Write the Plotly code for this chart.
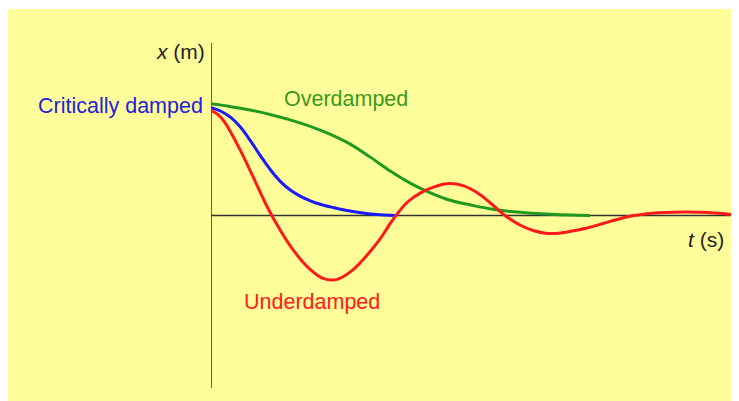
import plotly.graph_objects as go

# Values (t and x in arbitrary units)
over_t = [0.0, 0.379, 0.758, 1.136, 1.515, 1.894, 2.273, 2.652, 3.030, 3.409,
          3.788, 4.167, 4.545, 4.924, 5.303, 5.682, 6.061, 6.439, 6.818, 7.178]
over_x = [1.004, 0.978, 0.946, 0.906, 0.857, 0.798, 0.726, 0.637, 0.520, 0.395,
          0.287, 0.202, 0.135, 0.094, 0.058, 0.036, 0.021, 0.011, 0.004, 0.0]

crit_t = [0.0, 0.189, 0.379, 0.568, 0.758, 0.947, 1.136, 1.326, 1.515, 1.705,
          1.894, 2.083, 2.311, 2.576, 2.841, 3.144, 3.485]
crit_x = [0.969, 0.937, 0.879, 0.789, 0.664, 0.529, 0.404, 0.300, 0.224, 0.170,
          0.130, 0.099, 0.072, 0.045, 0.024, 0.009, 0.0]

under_t = [0.0, 0.133, 0.265, 0.530, 0.795, 1.061, 1.326, 1.591, 1.856, 2.121,
           2.386, 2.652, 2.917, 3.182, 3.447, 3.712, 3.977, 4.242, 4.508, 4.773,
           5.038, 5.303, 5.568, 5.833, 6.098, 6.364, 6.629, 6.894, 7.159, 7.424,
           7.689, 7.955, 8.220, 8.485, 8.750, 9.015, 9.280, 9.545, 9.811, 10.0]
under_x = [0.942, 0.906, 0.834, 0.610, 0.350, 0.081, -0.143, -0.332, -0.475, -0.565,
           -0.574, -0.502, -0.377, -0.224, -0.036, 0.117, 0.206, 0.260, 0.287, 0.269,
           0.206, 0.108, 0.0, -0.081, -0.135, -0.161, -0.157, -0.135, -0.108, -0.072,
           -0.036, -0.004, 0.013, 0.024, 0.030, 0.031, 0.029, 0.022, 0.011, 0.0]

GREEN = "#1f9a1f"
BLUE = "#1a1aff"
RED = "#ff1a1a"
YELLOW = "#FFFD99"
FONT = "Arial, Liberation Sans, sans-serif"

fig = go.Figure()
fig.add_trace(go.Scatter(x=over_t, y=over_x, mode="lines", line=dict(color=GREEN, width=3, shape="spline", smoothing=1), hoverinfo="skip"))
fig.add_trace(go.Scatter(x=crit_t, y=crit_x, mode="lines", line=dict(color=BLUE, width=3, shape="spline", smoothing=1), hoverinfo="skip"))
fig.add_trace(go.Scatter(x=under_t, y=under_x, mode="lines", line=dict(color=RED, width=3, shape="spline", smoothing=1), hoverinfo="skip"))

OFF = 8  # page body margin
W, H = 739 - OFF, 401 - OFF
L, R, T, B = 211 - OFF, 0, 43 - OFF, 13
pw, ph = W - L - R, H - T - B

def px_x(p):
    return (p - OFF - L) / pw

def px_y(p):
    return (H - B - (p - OFF)) / ph

shapes = [
    dict(type="rect", xref="paper", yref="paper", x0=px_x(7), x1=px_x(739), y0=px_y(401), y1=px_y(9),
         fillcolor=YELLOW, line=dict(width=0), layer="below"),
    dict(type="line", xref="x", yref="paper", x0=0, x1=0, y0=0, y1=1,
         line=dict(color="#333333", width=1.5), layer="below"),
    dict(type="line", xref="paper", yref="y", x0=0, x1=1, y0=0, y1=0,
         line=dict(color="#333333", width=1.5), layer="below"),
]

annotations = [
    dict(text="Critically damped", xref="paper", yref="paper", x=px_x(205), y=px_y(106),
         xanchor="right", yanchor="middle", showarrow=False, font=dict(color="#2222dd", size=21.5, family=FONT)),
    dict(text="Overdamped", xref="paper", yref="paper", x=px_x(346), y=px_y(99),
         xanchor="center", yanchor="middle", showarrow=False, font=dict(color="#3a9a22", size=21.5, family=FONT)),
    dict(text="Underdamped", xref="paper", yref="paper", x=px_x(312), y=px_y(302),
         xanchor="center", yanchor="middle", showarrow=False, font=dict(color="#ff2020", size=21.5, family=FONT)),
    dict(text="<i>x</i> (m)", xref="paper", yref="paper", x=px_x(207), y=px_y(51),
         xanchor="right", yanchor="middle", showarrow=False, font=dict(color="#222222", size=21, family=FONT)),
    dict(text="<i>t</i> (s)", xref="paper", yref="paper", x=px_x(706), y=px_y(239),
         xanchor="center", yanchor="middle", showarrow=False, font=dict(color="#222222", size=21, family=FONT)),
]

fig.update_layout(
    width=W, height=H,
    margin=dict(l=L, r=R, t=T, b=B, pad=0, autoexpand=False),
    paper_bgcolor="white",
    plot_bgcolor="rgba(0,0,0,0)",
    showlegend=False,
    shapes=shapes,
    annotations=annotations,
    xaxis=dict(range=[0, 10], visible=False, fixedrange=True),
    yaxis=dict(range=[-1.55, 1.55], visible=False, fixedrange=True),
)

fig.write_html("out.html", config=dict(displayModeBar=False))
